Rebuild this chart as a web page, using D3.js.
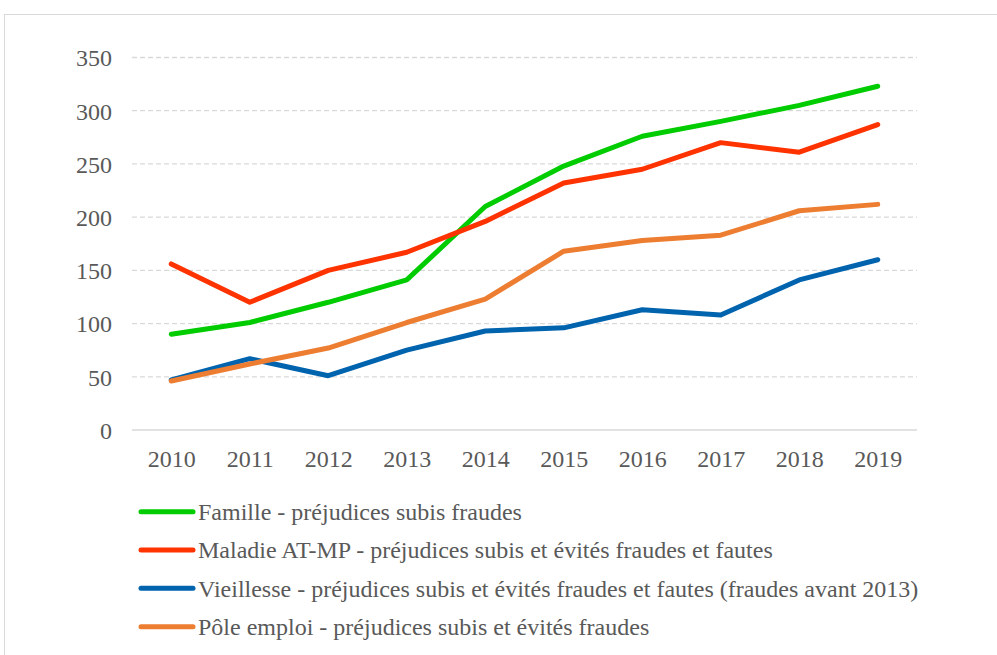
<!DOCTYPE html>
<html><head><meta charset="utf-8">
<script src="https://cdn.jsdelivr.net/npm/d3@7"></script>
<style>body{margin:0;background:#fff}svg{display:block}</style>
</head><body>
<svg id="c" width="997" height="655"></svg>
<script>
const years = ["2010","2011","2012","2013","2014","2015","2016","2017","2018","2019"];
const famille = [90, 101, 120, 141, 210, 248, 276, 290, 305, 323];
const maladie = [156, 120, 150, 167, 196, 232, 245, 270, 261, 287];
const vieillesse = [47, 67, 51, 75, 93, 96, 113, 108, 141, 160];
const poleEmploi = [46, 62, 77, 101, 123, 168, 178, 183, 206, 212];
const yTicks = [0, 50, 100, 150, 200, 250, 300, 350];
const seriesNames = [
  "Famille - préjudices subis fraudes",
  "Maladie AT-MP - préjudices subis et évités fraudes et fautes",
  "Vieillesse - préjudices subis et évités fraudes et fautes (fraudes avant 2013)",
  "Pôle emploi - préjudices subis et évités fraudes"
];
const colors = ["#00CC00", "#FF3300", "#0063AE", "#ED7D31"];

const series = [famille, maladie, vieillesse, poleEmploi];
const svg = d3.select("#c");
const FONT = "Liberation Serif";
const FS = 24;

svg.append("rect").attr("x",4.5).attr("y",14.5).attr("width",1000).attr("height",700)
  .attr("fill","none").attr("stroke","#d9d9d9").attr("stroke-width",1);

const x = d3.scalePoint().domain(years).range([132, 917]).padding(0.5);
const y = d3.scaleLinear().domain([0, 350]).range([430, 57.5]);

const g = svg.append("g");
g.selectAll("line.grid").data(yTicks.filter(d => d > 0)).join("line")
  .attr("x1",132).attr("x2",917).attr("y1",d=>y(d)).attr("y2",d=>y(d))
  .attr("stroke","#d9d9d9").attr("stroke-width",1.3).attr("stroke-dasharray","5,3");
g.append("line").attr("x1",132).attr("x2",917).attr("y1",y(0)).attr("y2",y(0))
  .attr("stroke","#d9d9d9").attr("stroke-width",1.3);

const yAxis = d3.axisLeft(y).tickValues(yTicks).tickSize(0).tickPadding(0);
const ya = svg.append("g").attr("transform","translate(112,0)").call(yAxis);
ya.select(".domain").remove();
ya.attr("font-family",FONT);
ya.selectAll("text").attr("font-size",FS).attr("fill","#595959").attr("dy","0.35em");

const xAxis = d3.axisBottom(x).tickSize(0).tickPadding(0);
const xa = svg.append("g").attr("transform","translate(0,459)").call(xAxis);
xa.select(".domain").remove();
xa.attr("font-family",FONT);
xa.selectAll("text").attr("y",0).attr("font-size",FS).attr("fill","#595959").attr("dy","0.35em");

const line = d3.line().x((d,i)=>x(years[i])).y(d=>y(d));
series.forEach((s,i)=>{
  svg.append("path").datum(s).attr("d",line).attr("fill","none")
    .attr("stroke",colors[i]).attr("stroke-width",5).attr("stroke-linecap","round").attr("stroke-linejoin","round");
});

const ly = d3.scaleLinear().domain([0,3]).range([511.7, 626.7]);
const leg = svg.append("g").attr("font-family",FONT);
seriesNames.forEach((n,i)=>{
  leg.append("line").attr("x1",141).attr("x2",193).attr("y1",ly(i)).attr("y2",ly(i))
    .attr("stroke",colors[i]).attr("stroke-width",5).attr("stroke-linecap","round");
  leg.append("text").attr("x",198).attr("y",ly(i)).attr("dy","0.35em")
    .attr("font-size",FS).attr("fill","#595959").text(n);
});
</script>
</body></html>
